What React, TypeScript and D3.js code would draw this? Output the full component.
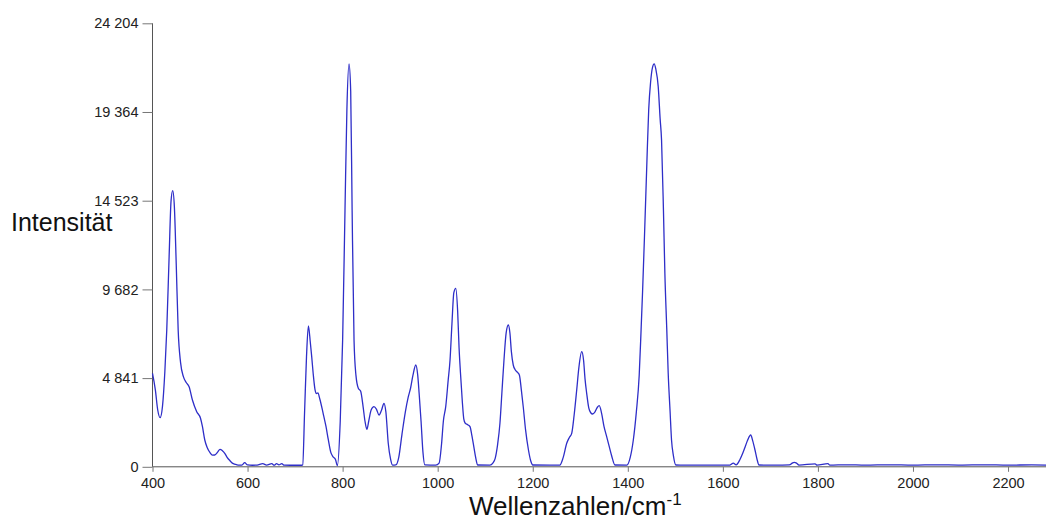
import React, { useRef, useEffect } from "react";
import * as d3 from "d3";

// Raman-Spektrum: Wellenzahl (cm-1) und Intensität
const wavenumbers = [
  400, 406, 411, 416, 421, 426, 430, 435, 439, 442.5, 446, 450, 454, 459, 465, 471, 477, 484, 493, 501,
  505, 510, 515, 521, 526, 531, 537, 542, 547, 552, 557, 563, 568, 574, 580, 588, 594, 600, 610, 620,
  632, 640, 651, 656, 661, 666, 672, 677, 690, 705, 714, 716, 720, 724, 728, 732, 735, 738, 742, 745,
  748, 752, 759, 765, 770, 775, 780, 785, 789, 795, 800, 805, 809, 813.5, 817, 820, 824, 828, 833, 838,
  843, 847, 851, 855, 860, 866, 871, 876.6, 882, 887, 891, 896, 901, 905, 912, 918, 925, 932, 938, 943,
  948, 954, 958, 961, 965, 969, 973, 996, 1003, 1008, 1012, 1017, 1022, 1026, 1030, 1034, 1038, 1042, 1045, 1048,
  1052, 1055, 1058, 1063, 1068, 1072, 1076, 1080, 1084, 1110, 1116, 1121, 1126, 1131, 1135, 1139.5, 1144, 1148.6, 1152, 1155,
  1159, 1163, 1168, 1172, 1176, 1180, 1185, 1191, 1196, 1200, 1257, 1264, 1271.5, 1277, 1282, 1287, 1292.5, 1297, 1303, 1307,
  1310, 1313.5, 1318, 1322, 1326, 1331, 1336, 1340, 1345, 1350, 1355, 1361, 1366, 1373, 1398, 1405, 1411.6, 1418, 1424, 1428,
  1431, 1435, 1440, 1444, 1448, 1452, 1455.5, 1459, 1464, 1468, 1471, 1475, 1478, 1482, 1485, 1489, 1492, 1496, 1501, 1510,
  1560, 1600, 1615, 1622, 1628, 1636, 1642, 1647, 1652, 1658.6, 1663, 1667.6, 1672, 1676, 1690, 1720, 1740, 1746, 1750, 1755,
  1760, 1794, 1798, 1821, 1825, 1860, 1900, 1950, 2000, 2050, 2100, 2150, 2200, 2250, 2280,
];
const intensities = [
  5100, 4200, 3100, 2680, 3300, 5200, 7466, 11500, 14500, 15070, 14200, 11000, 7466, 5700, 4918, 4600, 4372, 3646, 3007, 2647,
  2200, 1463, 1050, 770, 640, 644, 800, 955, 880, 737, 520, 333, 200, 136, 95, 90, 224, 100, 85, 95,
  170, 90, 170, 90, 170, 100, 170, 90, 85, 85, 85, 100, 3000, 6000, 7685, 6800, 6000, 5103, 4200, 4000,
  4030, 3700, 2920, 2200, 1463, 800, 546, 400, 60, 2500, 6900, 14000, 19500, 21985, 20500, 14000, 6921, 5000, 4284, 4120,
  3300, 2500, 2047, 2500, 3100, 3280, 3150, 2827, 3100, 3466, 3000, 1283, 400, 90, 100, 500, 1800, 3000, 3800, 4300,
  5000, 5556, 5000, 4000, 2500, 800, 100, 90, 200, 1200, 2500, 3300, 4700, 5829, 7800, 9500, 9742, 8500, 6500, 5103,
  3500, 2600, 2374, 2300, 2190, 1700, 1097, 500, 98, 90, 200, 464, 1200, 2374, 4000, 5829, 7300, 7740, 7300, 6300,
  5556, 5300, 5150, 5000, 4200, 3280, 2000, 917, 300, 98, 90, 500, 1283, 1600, 1828, 2800, 4192, 5400, 6283, 5800,
  4800, 4011, 3200, 2950, 2882, 3000, 3250, 3335, 2900, 2190, 1700, 1097, 600, 98, 90, 500, 1463, 3000, 5000, 7500,
  9500, 12500, 16500, 19500, 21000, 21800, 21985, 21700, 20746, 19000, 17837, 14000, 10560, 7500, 5103, 3000, 1463, 600, 98, 90,
  95, 90, 95, 200, 110, 400, 750, 1097, 1450, 1736, 1400, 917, 400, 98, 90, 95, 100, 200, 240, 200,
  95, 160, 90, 170, 90, 110, 90, 110, 90, 110, 95, 110, 90, 105, 95,
];
const xTicks = [400, 600, 800, 1000, 1200, 1400, 1600, 1800, 2000, 2200];
const yTicks = [0, 4841, 9682, 14523, 19364, 24204];

const W = 1046;
const H = 522;

function App() {
  const svgRef = useRef<SVGSVGElement>(null);

  useEffect(() => {
    const svg = d3.select(svgRef.current);
    svg.selectAll("*").remove();

    const left = 152.5;
    const right = 1046;
    const top = 23.3;
    const bottom = 466.8;

    const x = d3.scaleLinear().domain([400, 400 + (right - left) / 0.4753]).range([left, right]);
    const y = d3.scaleLinear().domain([0, 24204]).range([bottom, top]);
    const font = "Arial, 'Liberation Sans', sans-serif";

    // y axis
    const yAxis = d3.axisLeft(y).tickValues(yTicks).tickSize(10).tickPadding(4)
      .tickFormat((d) => d3.format(",")(d as number).replace(/,/g, " "));
    const gy = svg.append("g").attr("transform", `translate(${left},0)`).call(yAxis);
    gy.select(".domain").attr("stroke", "#555").attr("d", `M0,${top}V${bottom}`);
    gy.selectAll(".tick line").attr("stroke", "#777");
    gy.selectAll(".tick text").attr("font-family", font).attr("font-size", 14.5).attr("fill", "#222");

    // x axis
    const xAxis = d3.axisBottom(x).tickValues(xTicks).tickSize(5).tickPadding(6).tickFormat((d) => String(d));
    const gx = svg.append("g").attr("transform", `translate(0,${bottom})`).call(xAxis);
    gx.select(".domain").attr("stroke", "#555").attr("d", `M${left},0H${right}`);
    gx.selectAll(".tick line").attr("stroke", "#777");
    gx.selectAll(".tick text").attr("font-family", font).attr("font-size", 14.5).attr("fill", "#222");

    // spectrum
    const pts = wavenumbers.map((w, i) => [w, intensities[i]] as [number, number]);
    const line = d3.line<[number, number]>()
      .x((d) => x(d[0]))
      .y((d) => y(d[1]))
      .curve(d3.curveMonotoneX);
    svg.append("path")
      .datum(pts)
      .attr("d", line)
      .attr("fill", "none")
      .attr("stroke", "#2e2ec8")
      .attr("stroke-width", 1.3);

    // labels
    svg.append("text")
      .attr("x", 11)
      .attr("y", 231)
      .attr("font-family", font)
      .attr("font-size", 25)
      .attr("fill", "#111")
      .text("Intensität");

    const xl = svg.append("text")
      .attr("x", 469)
      .attr("y", 515)
      .attr("font-family", font)
      .attr("font-size", 26)
      .attr("fill", "#111");
    xl.append("tspan").text("Wellenzahlen/cm");
    xl.append("tspan").attr("font-size", 17).attr("dy", -10).text("-1");
  }, []);

  return (
    <svg
      ref={svgRef}
      width={W}
      height={H}
      style={{ position: "absolute", left: 0, top: 0, background: "#fff" }}
    />
  );
}

export default App;
